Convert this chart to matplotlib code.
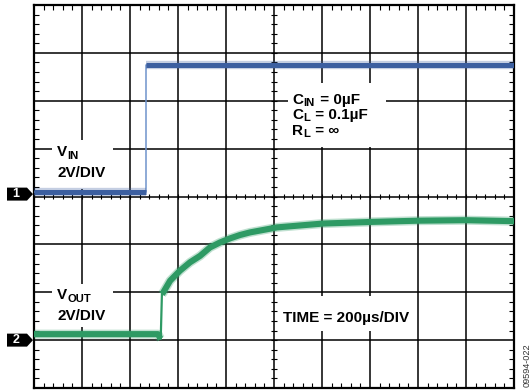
import matplotlib.pyplot as plt
import matplotlib.transforms as mtransforms
import numpy as np
from matplotlib.patches import Rectangle, Polygon
from matplotlib.ticker import MultipleLocator

plt.rcParams['font.family'] = ['Liberation Sans', 'DejaVu Sans']

# ---- scope settings ----
time_per_div = 200     # us/div
volts_per_div = 2      # V/div, both channels
n_xdiv, n_ydiv = 10, 8
ch1_ground = 4.05      # divisions from bottom
ch2_ground = 1.0

# ---- channel 1: VIN (time in us, volts) ----
vin_t = [0, 467, 467, 2000]
vin_v = [0.07, 0.07, 5.38, 5.38]

# ---- channel 2: VOUT (time in us, volts) ----
vout_t = [0, 517, 525, 528, 533, 539, 567, 608, 650, 692, 733, 775, 817,
          858, 900, 954, 1013, 1204, 1412, 1604, 1800, 2000]
vout_v = [0.25, 0.25, 0.09, 0.05, 1.92, 2.00, 2.48, 2.90, 3.25, 3.52, 3.87,
          4.08, 4.25, 4.39, 4.50, 4.60, 4.71, 4.87, 4.94, 4.99, 5.01, 4.97]

BLUE = '#3c5fa0'
BLUE_EDGE = '#6f93cc'
GREEN = '#2e9a64'

W, H = 532, 391
fig = plt.figure(figsize=(W / 100, H / 100), dpi=100)
renderer = fig.canvas.get_renderer()


def fx(px):
    return px / W


def fy(py):
    return 1 - py / H


ax = fig.add_axes([fx(34), fy(388), 480 / W, 383 / H])
ax.set_xlim(0, n_xdiv * time_per_div)
ax.set_ylim(0, n_ydiv)

# graticule
ax.set_xticks(np.arange(0, n_xdiv * time_per_div + 1, time_per_div))
ax.set_yticks(np.arange(0, n_ydiv + 1, 1))
ax.xaxis.set_minor_locator(MultipleLocator(time_per_div / 5))
ax.yaxis.set_minor_locator(MultipleLocator(0.2))
ax.tick_params(which='both', direction='in', top=True, right=True,
               labelbottom=False, labelleft=False)
ax.tick_params(which='major', length=0)
ax.tick_params(which='minor', length=3.6, width=0.8, color='black')
ax.grid(True, which='major', color='black', lw=1.1)
for s in ax.spines.values():
    s.set_linewidth(1.6)

# ticks along the centre axes
cx = n_xdiv * time_per_div / 2
ax.vlines(np.arange(0, n_xdiv * time_per_div + 1, time_per_div / 5),
          n_ydiv / 2 - 0.055, n_ydiv / 2 + 0.055, color='black', lw=0.8, zorder=1.6)
ax.hlines(np.arange(0, n_ydiv + 0.01, 0.2), cx - 11, cx + 11,
          color='black', lw=0.8, zorder=1.6)

# white boxes behind the labels (pixel boxes: x0, y0, x1, y1)
for x0, y0, x1, y1 in [(52, 140, 113, 189), (52, 284, 113, 327),
                       (288, 83, 386, 147), (278, 296, 416, 331)]:
    ax.add_patch(Rectangle((fx(x0), fy(y1)), (x1 - x0) / W, (y1 - y0) / H,
                           transform=fig.transFigure, facecolor='white',
                           edgecolor='none', zorder=1.8))

# traces
t1 = np.array(vin_t)
y1 = ch1_ground + np.array(vin_v) / volts_per_div
ax.plot(t1, y1, color=BLUE_EDGE, lw=1.1, zorder=3)
for sl in (slice(0, 2), slice(2, None)):
    ax.plot(t1[sl], y1[sl], color=BLUE, lw=6, alpha=0.3, zorder=3,
            solid_capstyle='butt')
    ax.plot(t1[sl], y1[sl], color=BLUE, lw=3.6, zorder=3,
            solid_capstyle='butt')

t2 = np.array(vout_t)
y2 = ch2_ground + np.array(vout_v) / volts_per_div
ax.plot(t2, y2, color=GREEN, lw=1.6, zorder=3)
for sl in (slice(0, 4), slice(4, None)):
    ax.plot(t2[sl], y2[sl], color=GREEN, lw=6.5, alpha=0.3, zorder=3,
            solid_capstyle='butt')
    ax.plot(t2[sl], y2[sl], color=GREEN, lw=4.4, zorder=3,
            solid_capstyle='butt')

# channel ground markers
blend = mtransforms.blended_transform_factory(fig.transFigure, ax.transData)
hh = 6.5 / 47.9
for label, g in (('1', ch1_ground), ('2', ch2_ground)):
    verts = [(fx(7), g - hh), (fx(27), g - hh), (fx(33), g),
             (fx(27), g + hh), (fx(7), g + hh)]
    ax.add_patch(Polygon(verts, closed=True, transform=blend, clip_on=False,
                         facecolor='black', edgecolor='none', zorder=4))
    ax.text(fx(16), g, label, transform=blend, color='white', fontsize=9,
            fontweight='bold', ha='center', va='center', clip_on=False, zorder=5)

# labels, with subscripts drawn as separate smaller texts
fs = 11.0


def label(x, y, parts, drop=3.2):
    for s, sub in parts:
        t = ax.text(fx(x), fy(y + (drop if sub else 0)), s,
                    transform=fig.transFigure, fontsize=fs * (0.74 if sub else 1),
                    fontweight='bold', ha='left', va='baseline', zorder=5)
        x += t.get_window_extent(renderer).width + (1 if sub else 0.5)


label(57, 156, [('V', False), ('IN', True)])
label(57, 177, [('2V/DIV', False)])
label(57, 299, [('V', False), ('OUT', True)])
label(57, 320, [('2V/DIV', False)])
label(292, 104, [('C', False), ('IN', True), (' = 0µF', False)], drop=2.4)
label(292, 119, [('C', False), ('L', True), (' = 0.1µF', False)], drop=2.4)
label(292, 135, [('R', False), ('L', True), (' = ∞', False)], drop=2.4)
label(283, 322, [('TIME = 200µs/DIV', False)])

fig.text(fx(527), fy(365), '09594-022', rotation=90, fontsize=6.6,
         color='#333333', ha='center', va='center')

fig.savefig('out.png', dpi=100)
